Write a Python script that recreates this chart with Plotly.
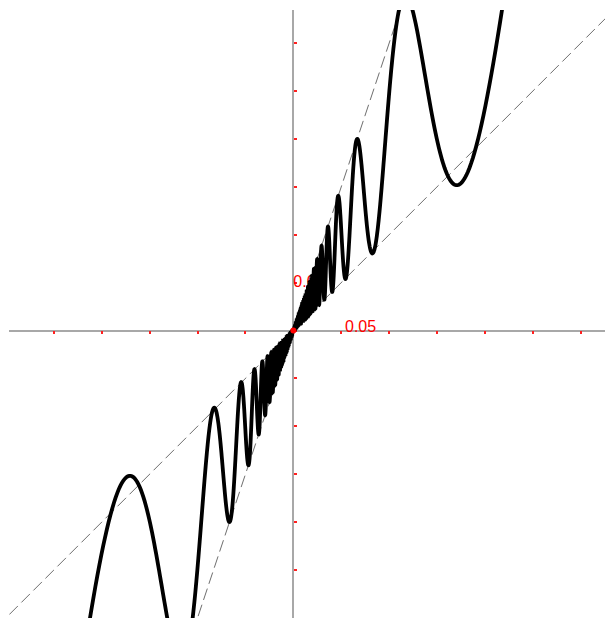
import numpy as np
import plotly.graph_objects as go

# Graph of f(x) = 2x + x(1 + g*x^2) * sin(1/|x| + phi), squeezed between y = x and y = 3x
mid_slope = 2.0
envelope_slopes = [1.0, 3.0]
growth = 4.0
phase = -1.05
freq = 1.0

x_range = [-0.2968, 0.3253]
y_range = [-0.3001, 0.3346]
tick_step = 0.05
x_label = "0.05"
y_label = "0.05"


def f(x):
    ax = np.abs(x)
    return mid_slope * x + x * (1 + growth * x ** 2) * np.sin(freq / ax + phase)


# sample evenly in 1/x so every oscillation gets enough points
u = np.linspace(2000.0, 1 / 0.34, 40000)
x_pos = 1.0 / u
x = np.concatenate([-x_pos[::-1], [0.0], x_pos])
y = np.where(x == 0, 0.0, f(np.where(x == 0, 1.0, x)))

fig = go.Figure()

# dashed bounding lines through the origin
line_x = np.array([x_range[0] - 0.1, x_range[1] + 0.1])
for m in envelope_slopes:
    fig.add_trace(go.Scatter(
        x=line_x, y=m * line_x, mode="lines",
        line=dict(color="#6e6e6e", width=1, dash="12px,5px"),
        hoverinfo="skip", showlegend=False,
    ))

# y-axis tick label sits underneath the curve
fig.add_trace(go.Scatter(
    x=[0], y=[tick_step], mode="text", text=[y_label],
    textposition="middle right",
    textfont=dict(color="red", size=16, family="Liberation Sans, Arial"),
    hoverinfo="skip", showlegend=False,
))

fig.add_trace(go.Scatter(
    x=x, y=y, mode="lines",
    line=dict(color="black", width=3.8, simplify=False),
    hoverinfo="skip", showlegend=False,
))

# origin point
fig.add_trace(go.Scatter(
    x=[0], y=[0], mode="markers",
    marker=dict(color="red", size=6),
    hoverinfo="skip", showlegend=False,
))

x_pos_frac = (0 - y_range[0]) / (y_range[1] - y_range[0])
y_pos_frac = (0 - x_range[0]) / (x_range[1] - x_range[0])

fig.update_layout(
    width=605, height=618,
    margin=dict(l=9, r=0, t=10, b=0),
    paper_bgcolor="white", plot_bgcolor="white",
    showlegend=False,
    xaxis=dict(
        range=x_range, anchor="free", position=x_pos_frac,
        showgrid=False, zeroline=False, showline=True,
        linecolor="#a8a8a8", linewidth=1.5,
        ticks="outside", ticklen=3, tickwidth=1.5, tickcolor="#ff2020",
        tick0=0, dtick=tick_step, showticklabels=False,
        layer="below traces",
    ),
    yaxis=dict(
        range=y_range, anchor="free", position=y_pos_frac,
        showgrid=False, zeroline=False, showline=True,
        linecolor="#a8a8a8", linewidth=1.5,
        ticks="inside", ticklen=3, tickwidth=1.5, tickcolor="#ff2020",
        tick0=0, dtick=tick_step, showticklabels=False,
        layer="below traces",
    ),
    annotations=[dict(
        x=tick_step, y=0, xref="x", yref="y", text=x_label,
        showarrow=False, xanchor="left", yanchor="middle",
        xshift=2, yshift=4,
        font=dict(color="red", size=16, family="Liberation Sans, Arial"),
    )],
)

fig.write_html("out.html")
